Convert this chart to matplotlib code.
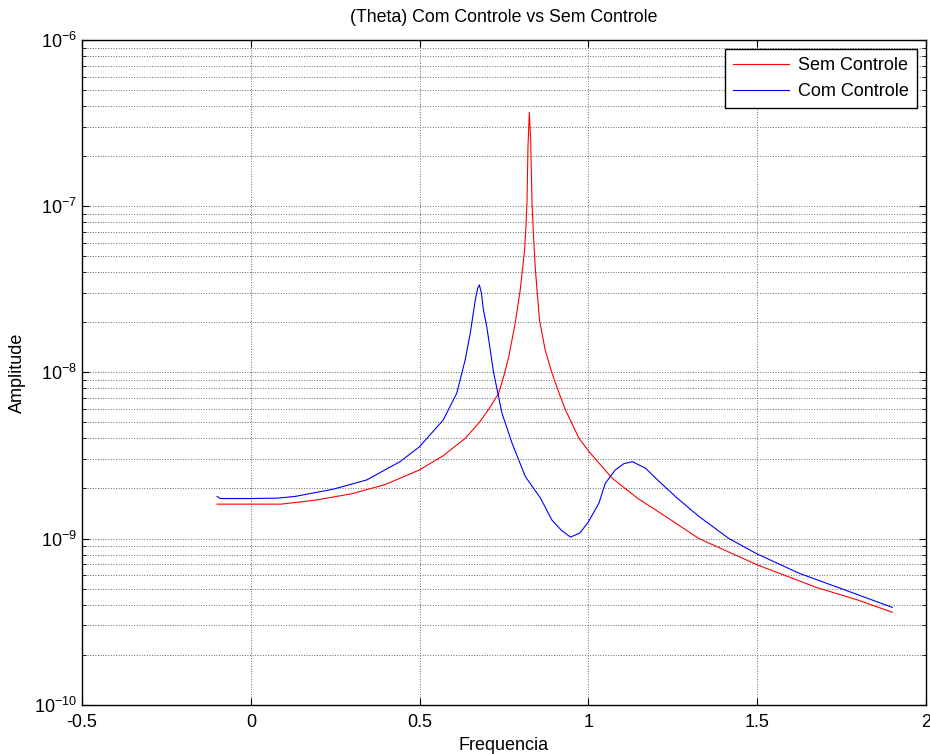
import matplotlib.pyplot as plt
import numpy as np

plt.rcParams['font.family'] = ['Liberation Sans', 'DejaVu Sans']

# valores
freq_sem = [-0.10, 0.00, 0.09, 0.19, 0.30, 0.40, 0.50, 0.57, 0.635, 0.675, 0.705,
            0.734, 0.750, 0.764, 0.783, 0.798, 0.811, 0.815, 0.818, 0.821, 0.823,
            0.825, 0.827, 0.829, 0.833, 0.838, 0.843, 0.855, 0.872, 0.892, 0.912,
            0.932, 0.972, 1.002, 1.07, 1.145, 1.228, 1.327, 1.50, 1.674, 1.80, 1.90]
amp_sem = [1.61e-9, 1.61e-9, 1.61e-9, 1.70e-9, 1.86e-9, 2.12e-9, 2.59e-9, 3.15e-9,
           4.01e-9, 4.94e-9, 6.0e-9, 7.48e-9, 9.6e-9, 1.24e-8, 1.97e-8, 3.13e-8,
           5.45e-8, 7.6e-8, 1.04e-7, 2.28e-7, 2.9e-7, 3.67e-7, 3.0e-7, 2.5e-7,
           1.04e-7, 6.26e-8, 4.13e-8, 2.07e-8, 1.36e-8, 9.9e-9, 7.6e-9, 5.94e-9,
           4.01e-9, 3.33e-9, 2.31e-9, 1.75e-9, 1.36e-9, 1.0e-9, 6.94e-10, 5.09e-10,
           4.25e-10, 3.6e-10]

freq_com = [-0.10, -0.09, 0.00, 0.08, 0.13, 0.244, 0.343, 0.442, 0.50, 0.57, 0.61,
            0.635, 0.65, 0.665, 0.672, 0.677, 0.683, 0.689, 0.699, 0.719, 0.744,
            0.774, 0.813, 0.858, 0.892, 0.92, 0.947, 0.975, 1.00, 1.031, 1.05, 1.08,
            1.105, 1.13, 1.169, 1.21, 1.263, 1.327, 1.416, 1.50, 1.624, 1.772, 1.90]
amp_com = [1.79e-9, 1.74e-9, 1.74e-9, 1.75e-9, 1.79e-9, 1.98e-9, 2.25e-9, 2.9e-9,
           3.57e-9, 5.17e-9, 7.48e-9, 1.19e-8, 1.72e-8, 2.73e-8, 3.2e-8, 3.36e-8,
           3.0e-8, 2.37e-8, 1.88e-8, 1.0e-8, 5.67e-9, 3.74e-9, 2.36e-9, 1.75e-9,
           1.29e-9, 1.12e-9, 1.02e-9, 1.08e-9, 1.26e-9, 1.63e-9, 2.15e-9, 2.59e-9,
           2.82e-9, 2.9e-9, 2.65e-9, 2.2e-9, 1.75e-9, 1.36e-9, 1.0e-9, 8.07e-10,
           6.18e-10, 4.8e-10, 3.85e-10]

xticks = [-0.5, 0, 0.5, 1, 1.5, 2]

fig = plt.figure(figsize=(9.3, 7.54), dpi=100)
ax = fig.add_axes([0.0882, 0.0654, 0.9075, 0.8816])

ax.semilogy(freq_sem, amp_sem, color='#ff0000', lw=0.8, label='Sem Controle')
ax.semilogy(freq_com, amp_com, color='#0000ff', lw=0.8, label='Com Controle')

ax.set_xlim(-0.5, 2)
ax.set_ylim(1e-10, 1e-6)
ax.set_xticks(xticks)
ax.set_xticklabels(['-0.5', '0', '0.5', '1', '1.5', '2'])

ax.grid(True, which='major', linestyle=':', color='0.4', lw=0.7)
ax.grid(True, which='minor', axis='y', linestyle=':', color='0.4', lw=0.7)

ax.tick_params(which='both', direction='in', top=True, right=True, labelsize=13)
ax.tick_params(which='major', length=5)
ax.tick_params(which='minor', length=3)
ax.tick_params(axis='x', pad=7)
for s in ax.spines.values():
    s.set_linewidth(1.0)

ax.set_title('(Theta) Com Controle vs Sem Controle', fontsize=12.8, pad=13)
ax.set_xlabel('Frequencia', fontsize=13, labelpad=4)
ax.set_ylabel('Amplitude', fontsize=13, labelpad=6)

leg = ax.legend(loc='upper right', fontsize=13, fancybox=False, framealpha=1,
                edgecolor='black', borderaxespad=0.5, handlelength=3.1,
                handletextpad=0.5, labelspacing=0.5, borderpad=0.45)
leg.get_frame().set_linewidth(1.0)

plt.savefig('out.png', dpi=100)
